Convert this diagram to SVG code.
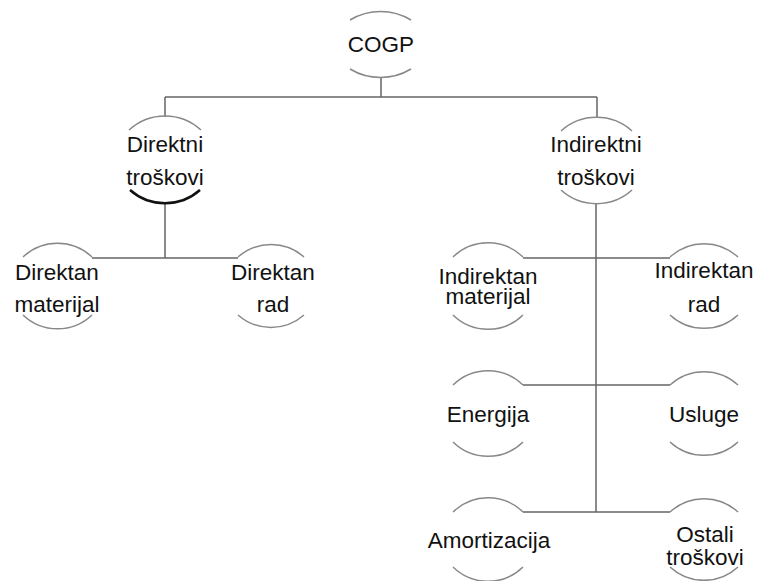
<svg xmlns="http://www.w3.org/2000/svg" width="765" height="581" viewBox="0 0 765 581">
<style>
.t{font-family:"Liberation Sans",Arial,sans-serif;font-size:22.5px;fill:#111;text-anchor:middle}
.arc{fill:none;stroke:#888;stroke-width:1.5}
.thick{fill:none;stroke:#111;stroke-width:2.5}
.ln{fill:none;stroke:#666;stroke-width:1.5}
</style>
<rect width="765" height="581" fill="#fff"/>
<g id="connectors">
<path class="ln" d="M381 78 V97 M165 97 H597 M165 97 V117 M597 97 V117"/>
<path class="ln" d="M165 204 V258 M92 258 H238"/>
<path class="ln" d="M596 204 V512 M523 258 H670 M523 385 H670 M523 512 H670"/>
</g>
<g id="cogp">
<path class="arc" d="M350 20 A59 59 0 0 1 411 20"/>
<path class="arc" d="M350 69 A59 59 0 0 0 411 69"/>
<text class="t" x="381" y="52">COGP</text>
</g>
<g id="direktni">
<path class="arc" d="M129 130 A53 53 0 0 1 201 130"/>
<path class="thick" d="M130 190 A53 53 0 0 0 200 190"/>
<text class="t" x="165" y="152">Direktni</text>
<text class="t" x="165" y="185">troškovi</text>
</g>
<g id="indirektni">
<path class="arc" d="M561 131 A53 53 0 0 1 632 131"/>
<path class="arc" d="M561 190 A53 53 0 0 0 632 190"/>
<text class="t" x="596" y="152">Indirektni</text>
<text class="t" x="596" y="185">troškovi</text>
</g>
<g id="dir-materijal">
<path class="arc" d="M23 257 A50 50 0 0 1 92 257"/>
<path class="arc" d="M23 315 A50 50 0 0 0 92 315"/>
<text class="t" x="57" y="280">Direktan</text>
<text class="t" x="57" y="312">materijal</text>
</g>
<g id="dir-rad">
<path class="arc" d="M238 257 A50 50 0 0 1 304 257"/>
<path class="arc" d="M238 315 A50 50 0 0 0 304 315"/>
<text class="t" x="273" y="280">Direktan</text>
<text class="t" x="273" y="312">rad</text>
</g>
<g id="ind-materijal">
<path class="arc" d="M453 257 A50 50 0 0 1 523 257"/>
<path class="arc" d="M453 315 A50 50 0 0 0 523 315"/>
<text class="t" x="488" y="284">Indirektan</text>
<text class="t" x="488" y="304">materijal</text>
</g>
<g id="ind-rad">
<path class="arc" d="M670 257 A50 50 0 0 1 738 257"/>
<path class="arc" d="M670 315 A50 50 0 0 0 738 315"/>
<text class="t" x="704" y="278">Indirektan</text>
<text class="t" x="704" y="312">rad</text>
</g>
<g id="energija">
<path class="arc" d="M453 385 A50 50 0 0 1 523 385"/>
<path class="arc" d="M453 442 A50 50 0 0 0 523 442"/>
<text class="t" x="488" y="422">Energija</text>
</g>
<g id="usluge">
<path class="arc" d="M670 385 A50 50 0 0 1 738 385"/>
<path class="arc" d="M670 442 A50 50 0 0 0 738 442"/>
<text class="t" x="704" y="422">Usluge</text>
</g>
<g id="amortizacija">
<path class="arc" d="M453 512 A50 50 0 0 1 523 512"/>
<path class="arc" d="M453 567 A50 50 0 0 0 523 567"/>
<text class="t" x="489" y="548">Amortizacija</text>
</g>
<g id="ostali">
<path class="arc" d="M670 512 A50 50 0 0 1 738 512"/>
<path class="arc" d="M670 567 A50 50 0 0 0 738 567"/>
<text class="t" x="705" y="542">Ostali</text>
<text class="t" x="705" y="565">troškovi</text>
</g>
</svg>
